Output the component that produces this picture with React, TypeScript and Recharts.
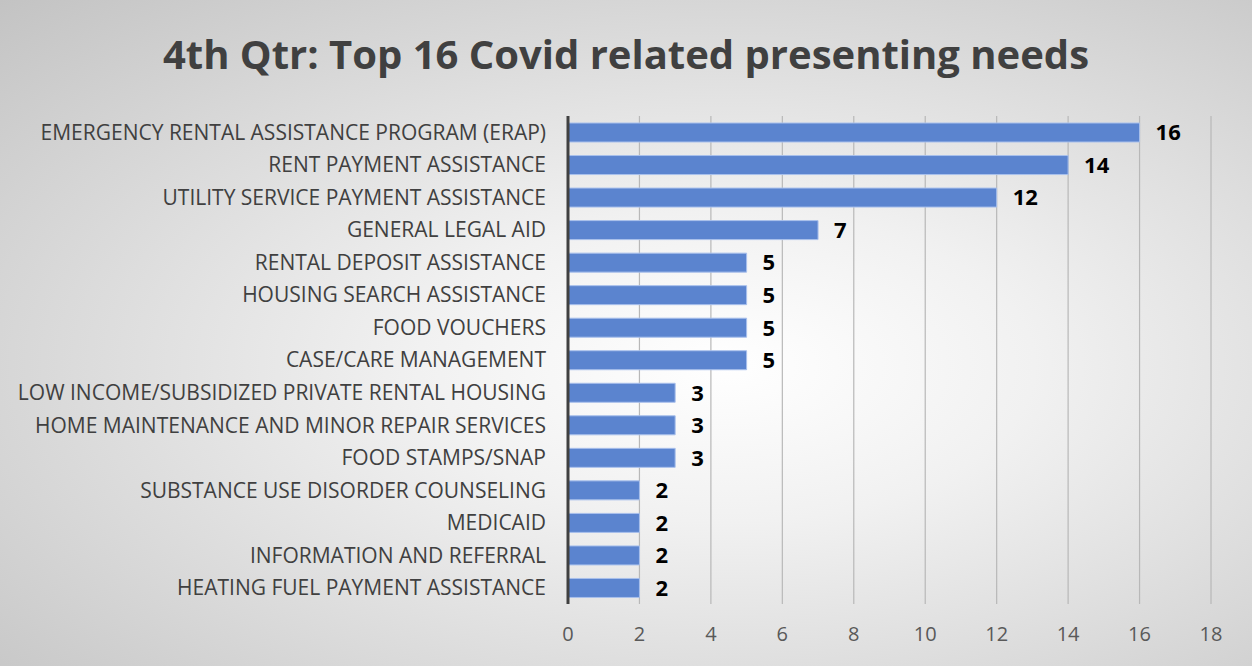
import { BarChart, Bar, XAxis, YAxis, CartesianGrid, LabelList } from 'recharts';

const categories = [
  'EMERGENCY RENTAL ASSISTANCE PROGRAM (ERAP)',
  'RENT PAYMENT ASSISTANCE',
  'UTILITY SERVICE PAYMENT ASSISTANCE',
  'GENERAL LEGAL AID',
  'RENTAL DEPOSIT ASSISTANCE',
  'HOUSING SEARCH ASSISTANCE',
  'FOOD VOUCHERS',
  'CASE/CARE MANAGEMENT',
  'LOW INCOME/SUBSIDIZED PRIVATE RENTAL HOUSING',
  'HOME MAINTENANCE AND MINOR REPAIR SERVICES',
  'FOOD STAMPS/SNAP',
  'SUBSTANCE USE DISORDER COUNSELING',
  'MEDICAID',
  'INFORMATION AND REFERRAL',
  'HEATING FUEL PAYMENT ASSISTANCE',
];

const counts = [16, 14, 12, 7, 5, 5, 5, 5, 3, 3, 3, 2, 2, 2, 2];

const xTicks = [0, 2, 4, 6, 8, 10, 12, 14, 16, 18];

const data = categories.map((need, i) => ({ need, count: counts[i] }));

const FONT = '"Open Sans", Lato, sans-serif';

export default function App() {
  return (
    <div
      style={{
        position: 'absolute',
        left: 0,
        top: 0,
        width: 1252,
        height: 666,
        background: 'radial-gradient(ellipse at 58% 55%, #ffffff 0%, #f1f1f1 30%, #c3c3c3 100%)',
        fontFamily: FONT,
        overflow: 'hidden',
      }}
    >
      <div
        style={{
          position: 'absolute',
          left: 0,
          top: 26,
          width: 1252,
          textAlign: 'center',
          fontSize: 40,
          fontWeight: 700,
          color: '#404040',
          lineHeight: '56px',
        }}
      >
        4th Qtr: Top 16 Covid related presenting needs
      </div>
      <div style={{ position: 'absolute', left: 0, top: 0 }}>
        <BarChart
          width={1252}
          height={666}
          data={data}
          layout="vertical"
          margin={{ top: 116, right: 41, bottom: 0, left: 0 }}
          barSize={19}
        >
          <CartesianGrid horizontal={false} stroke="#b8b8b8" strokeWidth={1.2} />
          <XAxis
            type="number"
            domain={[0, 18]}
            ticks={xTicks}
            axisLine={false}
            tickLine={false}
            height={62}
            tickMargin={17}
            tick={{ fill: '#595959', fontSize: 20, fontFamily: FONT }}
          />
          <YAxis
            type="category"
            dataKey="need"
            width={568}
            axisLine={{ stroke: '#404040', strokeWidth: 3 }}
            tickLine={false}
            tickMargin={16}
            interval={0}
            tick={{ fill: '#404040', fontSize: 21, fontFamily: FONT }}
          />
          <Bar dataKey="count" fill="#5b84cf" stroke="#a9c0ec" strokeWidth={1} isAnimationActive={false}>
            <LabelList
              dataKey="count"
              position="right"
              offset={16}
              fill="#000000"
              fontSize={22}
              fontWeight={700}
              fontFamily={FONT}
            />
          </Bar>
        </BarChart>
      </div>
    </div>
  );
}
